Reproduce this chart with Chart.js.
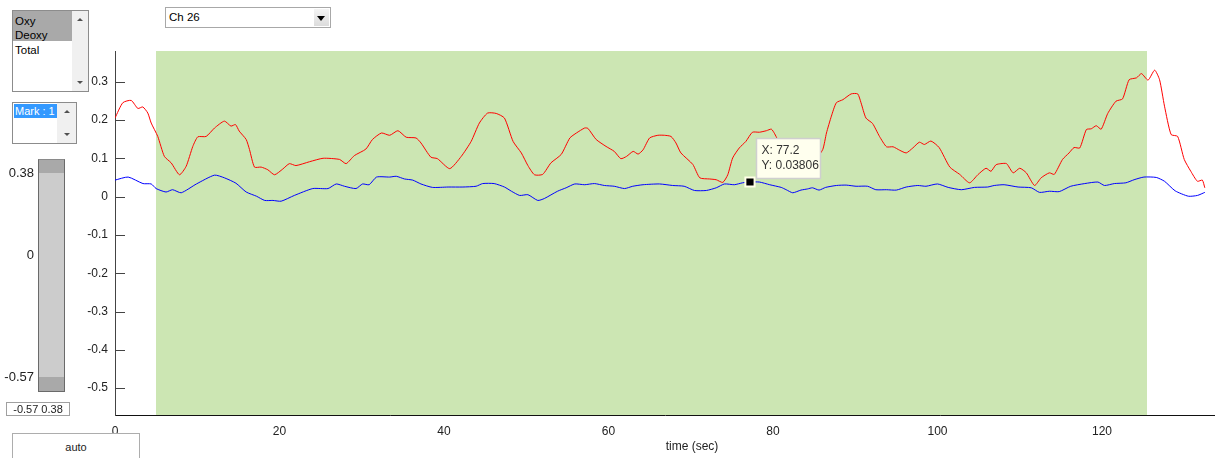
<!DOCTYPE html>
<html>
<head>
<meta charset="utf-8">
<title>Ch 26</title>
<script src="https://cdn.jsdelivr.net/npm/chart.js@4.4.1/dist/chart.umd.min.js"></script>
<style>
  html, body { margin: 0; padding: 0; background: #fff; width: 1215px; height: 458px; overflow: hidden; }
  body { font-family: "Liberation Sans", Arial, sans-serif; position: relative; }
  #plot { position: absolute; left: 0; top: 0; }
  .ctl { position: absolute; box-sizing: border-box; background: #fff; font-size: 12px; color: #000; }
  .list { border: 1px solid #8c8c8c; }
  .item { position: absolute; left: 2px; height: 15px; line-height: 15px; white-space: nowrap; font-size: 11.5px; }
  .hl { position: absolute; left: 0; }
  .vscroll { position: absolute; top: 0; right: 0; bottom: 0; background: #f0f0f0; }
  .up, .down { position: absolute; left: 50%; margin-left: -3px; width: 0; height: 0; border-left: 3px solid transparent; border-right: 3px solid transparent; }
  .up { top: 7px; border-bottom: 3px solid #505050; }
  .down { bottom: 7px; border-top: 3px solid #505050; }
  .drop { border: 1px solid #a8a8a8; }
  .drop .arrow { position: absolute; right: 1px; top: 1px; bottom: 1px; width: 15px; background: linear-gradient(#f4f4f4, #dcdcdc); }
  .drop .arrow i { position: absolute; left: 3px; top: 7px; width: 0; height: 0; border-left: 4px solid transparent; border-right: 4px solid transparent; border-top: 5px solid #000; }
  .lab { position: absolute; font-size: 13px; color: #222; white-space: nowrap; }
</style>
</head>
<body>
<!-- canvas runs a few px past the window so the axes reach the edge, as in the original -->
<canvas id="plot" width="1224" height="458"></canvas>

<div class="ctl list" style="left:12px;top:10px;width:77px;height:82px;">
  <div class="hl" style="top:0;width:59px;height:30px;background:#a9a9a9;"></div>
  <div class="item" style="top:3px;">Oxy</div>
  <div class="item" style="top:17px;">Deoxy</div>
  <div class="item" style="top:32px;">Total</div>
  <div class="vscroll" style="width:16px;"><span class="up"></span><span class="down"></span></div>
</div>

<div class="ctl list" style="left:12px;top:102px;width:65px;height:42px;">
  <div class="hl" style="top:1px;left:1px;width:43px;height:14px;background:#3399ff;"></div>
  <div class="item" style="top:1px;left:2px;height:14px;line-height:14px;color:#fff;font-size:11px;">Mark : 1</div>
  <div class="vscroll" style="width:19px;"><span class="up"></span><span class="down"></span></div>
</div>

<div class="ctl drop" style="left:165px;top:7px;width:166px;height:21px;">
  <div style="position:absolute;left:3px;top:3px;font-size:11.5px;">Ch 26</div>
  <div class="arrow"><i></i></div>
</div>

<div class="ctl" style="left:38px;top:159px;width:27px;height:233px;background:#cccccc;border:1px solid #6a6a6a;border-top-color:#8a8a8a;">
  <div style="position:absolute;left:0;right:0;top:0;height:13px;background:#a9a9a9;"></div>
  <div style="position:absolute;left:0;right:0;bottom:0;height:14px;background:#a9a9a9;"></div>
</div>
<div class="lab" style="right:1181px;top:165px;">0.38</div>
<div class="lab" style="right:1181px;top:247px;">0</div>
<div class="lab" style="right:1181px;top:369px;">-0.57</div>

<div class="ctl" style="left:6px;top:402px;width:64px;height:14px;border:1px solid #a0a0a0;font-size:11px;line-height:12px;text-align:center;color:#222;">-0.57 0.38</div>

<div class="ctl" style="left:12px;top:433px;width:128px;height:32px;border:1px solid #adadad;font-size:11px;text-align:center;line-height:26px;color:#222;">auto</div>

<script>
// time axis (sec) and channel 26 signals
const oxyTime = [0, 0.95, 1.97, 2.78, 3.38, 3.99, 4.4, 5.2, 6.0, 6.83, 7.84, 8.65, 9.46, 10.07, 11.08, 12.1, 13.3, 14.1, 14.65, 15.1,
  15.95, 16.35, 16.96, 17.77, 18.58, 19.4, 20.4, 21.2, 22.0, 23.65, 25.3, 27.3, 28.1, 29.1, 30.5, 31.3, 32.4, 33.4, 34.4, 35.4,
  36.6, 37.2, 38.4, 39.2, 40.7, 42.1, 43.3, 44.3, 45.3, 46.35, 47.35, 48.4, 49.4, 50.2, 51.0, 52.0, 53.0, 54.25, 55.3, 56.1,
  57.1, 57.5, 58.5, 59.7, 60.7, 61.5, 62.2, 63.0, 63.6, 64.2, 65.0, 66.0, 66.8, 67.6, 68.2, 68.8, 70.25, 71.1, 72.3, 73.1,
  73.9, 74.5, 75.1, 75.9, 76.7, 77.5, 78.35, 79.2, 79.8, 80.2, 81, 82, 83, 84, 85, 86.05, 86.5, 87.1, 87.7, 88.5,
  89.5, 90.3, 90.7, 91.3, 92.1, 92.95, 93.8, 94.6, 95.4, 96.2, 97.0, 97.8, 98.4, 99.2, 100.2, 101.5, 102.7, 103.9, 104.9, 105.9,
  106.5, 107.1, 107.7, 108.4, 109.2, 110.0, 110.8, 111.8, 112.6, 113.6, 114.2, 115.2, 116.0, 116.6, 117.3, 118.1, 118.7, 119.3, 119.9, 120.7,
  121.7, 122.5, 123.3, 124.2, 124.8, 125.6, 126.4, 127.0, 127.6, 128.4, 129.2, 130.0, 130.8, 131.6, 132.2, 132.5];
const oxyValues = [0.205, 0.245, 0.251, 0.230, 0.234, 0.218, 0.192, 0.157, 0.105, 0.088, 0.057, 0.079, 0.131, 0.156, 0.157, 0.179, 0.197, 0.184, 0.188, 0.171,
  0.149, 0.123, 0.077, 0.077, 0.070, 0.057, 0.072, 0.086, 0.081, 0.091, 0.100, 0.097, 0.086, 0.107, 0.124, 0.149, 0.166, 0.160, 0.172, 0.155,
  0.153, 0.140, 0.103, 0.099, 0.073, 0.105, 0.144, 0.192, 0.218, 0.217, 0.205, 0.144, 0.114, 0.081, 0.057, 0.058, 0.088, 0.110, 0.153, 0.166,
  0.179, 0.178, 0.149, 0.131, 0.118, 0.099, 0.105, 0.118, 0.111, 0.122, 0.153, 0.160, 0.160, 0.157, 0.140, 0.114, 0.084, 0.049, 0.046, 0.044,
  0.037, 0.057, 0.101, 0.127, 0.144, 0.168, 0.168, 0.172, 0.176, 0.164, 0.130, 0.090, 0.070, 0.070, 0.090, 0.123, 0.166, 0.210, 0.245, 0.253,
  0.268, 0.268, 0.245, 0.205, 0.191, 0.157, 0.130, 0.130, 0.121, 0.114, 0.127, 0.142, 0.136, 0.145, 0.128, 0.077, 0.058, 0.036, 0.057, 0.074,
  0.066, 0.083, 0.086, 0.086, 0.062, 0.074, 0.062, 0.029, 0.049, 0.062, 0.058, 0.097, 0.114, 0.128, 0.127, 0.175, 0.177, 0.185, 0.176, 0.217,
  0.249, 0.255, 0.305, 0.310, 0.321, 0.304, 0.330, 0.305, 0.236, 0.162, 0.157, 0.097, 0.066, 0.040, 0.043, 0.023];

const deoxyTime = [0, 1.6, 3.4, 4.4, 5.0, 6.2, 7.0, 8.05, 9.9, 12.1, 13.3, 14.7, 15.95, 17.2, 18.2, 19.2, 20.2, 21.8, 24.05, 25.9,
  26.9, 27.9, 29.3, 30.1, 30.9, 31.8, 33.4, 34.2, 35.2, 36.2, 37.2, 38.6, 40.5, 42.3, 43.9, 44.7, 46.1, 47.35, 48.2, 49.2,
  50.2, 51.4, 52.2, 53.8, 54.85, 55.9, 57.1, 58.3, 59.5, 60.7, 61.95, 62.95, 64.2, 66.2, 67.8, 69.2, 70.45, 71.9, 73.1, 74.1,
  75.3, 76.3, 77.2, 78.35, 79.6, 81.0, 81.6, 82.4, 83.4, 84.2, 84.8, 85.6, 86.4, 87.7, 88.9, 90.1, 91.5, 92.5, 93.8, 95.0,
  96.2, 97.6, 98.6, 100.0, 101.3, 102.9, 104.5, 106.1, 106.9, 108.1, 109.8, 111.4, 112.4, 113.6, 114.8, 116.2, 117.9, 119.5, 120.3, 121.5,
  122.9, 123.9, 125.1, 126.6, 127.6, 128.9, 130.5, 131.6, 132.5];
const deoxyValues = [0.043, 0.051, 0.034, 0.033, 0.021, 0.012, 0.018, 0.010, 0.033, 0.056, 0.049, 0.035, 0.012, 0.001, -0.010, -0.010, -0.012, 0.003, 0.021, 0.021,
  0.033, 0.027, 0.021, 0.033, 0.031, 0.051, 0.051, 0.053, 0.046, 0.043, 0.033, 0.024, 0.025, 0.025, 0.027, 0.034, 0.034, 0.025, 0.014, 0.003,
  0.005, -0.010, -0.005, 0.014, 0.023, 0.033, 0.031, 0.034, 0.029, 0.027, 0.021, 0.027, 0.031, 0.033, 0.029, 0.027, 0.016, 0.016, 0.023, 0.033,
  0.031, 0.036, 0.038, 0.038, 0.031, 0.024, 0.018, 0.010, 0.017, 0.020, 0.023, 0.017, 0.024, 0.029, 0.030, 0.027, 0.027, 0.018, 0.018, 0.017,
  0.025, 0.029, 0.027, 0.033, 0.024, 0.018, 0.024, 0.025, 0.029, 0.031, 0.025, 0.023, 0.011, 0.014, 0.013, 0.027, 0.034, 0.038, 0.029, 0.034,
  0.036, 0.044, 0.051, 0.050, 0.040, 0.015, 0.001, 0.003, 0.011];

// "Mark : 1" block (sec) and the data cursor
const markRange = [5.0, 125.5];
const cursorTime = [77.2];
const cursorValue = [0.03806];

const xTicks = [0, 20, 40, 60, 80, 100, 120];
const yTicks = [-0.5, -0.4, -0.3, -0.2, -0.1, 0, 0.1, 0.2, 0.3];
const yTickLabels = ['-0.5', '-0.4', '-0.3', '-0.2', '-0.1', '0', '0.1', '0.2', '0.3'];
const xAxisTitle = 'time (sec)';
const xMax = 133.8;
const yLimits = [-0.57, 0.38];

const FONT = '"Liberation Sans", Arial, sans-serif';
const toPoints = (xs, ys) => xs.map((x, i) => ({ x: x, y: ys[i] }));

// green mark patch, inward y ticks, data tip and the x label
const figurePlugin = {
    id: 'figure',
    beforeDatasetsDraw(chart) {
        const { ctx, chartArea, scales } = chart;
        const x0 = scales.x.getPixelForValue(markRange[0]);
        const x1 = scales.x.getPixelForValue(markRange[1]);
        ctx.save();
        ctx.fillStyle = '#cce6b3';
        ctx.fillRect(Math.round(x0), chartArea.top, Math.round(x1 - x0), chartArea.bottom - chartArea.top);
        ctx.restore();
    },
    afterDatasetsDraw(chart) {
        const { ctx, chartArea, scales } = chart;
        ctx.save();

        // ticks point into the axes, like the original
        ctx.strokeStyle = '#444';
        ctx.lineWidth = 1;
        yTicks.forEach((v) => {
            const py = Math.round(scales.y.getPixelForValue(v)) + 0.5;
            ctx.beginPath();
            ctx.moveTo(chartArea.left, py);
            ctx.lineTo(chartArea.left + 10, py);
            ctx.stroke();
        });

        // data tip box
        const px = scales.x.getPixelForValue(cursorTime[0]);
        const py = scales.y.getPixelForValue(cursorValue[0]);
        const bx = Math.round(px + 6) + 0.5;
        const by = Math.round(py - 44) + 0.5;
        ctx.fillStyle = '#ffffee';
        ctx.fillRect(bx, by, 64, 40);
        ctx.strokeStyle = '#cfcfcf';
        ctx.lineWidth = 1.5;
        ctx.strokeRect(bx, by, 64, 40);
        ctx.fillStyle = '#333';
        ctx.font = '12px ' + FONT;
        ctx.textBaseline = 'middle';
        ctx.textAlign = 'left';
        ctx.fillText('X: ' + cursorTime[0], bx + 5, by + 12);
        ctx.fillText('Y: ' + cursorValue[0], bx + 5, by + 27);

        // x label sits right of centre because the axes run past the window
        ctx.textAlign = 'center';
        ctx.fillStyle = '#222';
        ctx.fillText(xAxisTitle, chartArea.left + 577, 447);
        ctx.restore();
    }
};

const chart = new Chart(document.getElementById('plot'), {
    type: 'line',
    data: {
        datasets: [
            {
                label: 'cursor',
                data: toPoints(cursorTime, cursorValue),
                showLine: false,
                pointStyle: 'rect',
                pointRadius: 6.5,
                pointBackgroundColor: '#000',
                pointBorderColor: '#ffffe8',
                pointBorderWidth: 2,
                order: 0
            },
            {
                label: 'Oxy',
                data: toPoints(oxyTime, oxyValues),
                borderColor: '#ff0000',
                borderWidth: 1,
                pointRadius: 0,
                tension: 0.2,
                order: 1
            },
            {
                label: 'Deoxy',
                data: toPoints(deoxyTime, deoxyValues),
                borderColor: '#0000ff',
                borderWidth: 1,
                pointRadius: 0,
                tension: 0.2,
                order: 2
            }
        ]
    },
    options: {
        responsive: false,
        animation: false,
        devicePixelRatio: 1,
        events: [],
        layout: { padding: { left: 70, right: 0, top: 51, bottom: 0 } },
        plugins: {
            legend: { display: false },
            tooltip: { enabled: false }
        },
        scales: {
            x: {
                type: 'linear',
                min: 0,
                max: xMax,
                afterFit: (s) => { s.height = 43; },
                afterBuildTicks: (s) => { s.ticks = xTicks.map((v) => ({ value: v })); },
                grid: { display: false, drawTicks: false },
                border: { display: true, color: '#111', width: 1 },
                ticks: {
                    padding: 9,
                    color: '#222',
                    maxRotation: 0,
                    autoSkip: false,
                    font: { family: FONT, size: 12 },
                    callback: (v) => String(v)
                }
            },
            y: {
                type: 'linear',
                min: yLimits[0],
                max: yLimits[1],
                afterFit: (s) => { s.width = 45; },
                afterBuildTicks: (s) => { s.ticks = yTicks.map((v) => ({ value: v })); },
                grid: { display: false, drawTicks: false },
                border: { display: true, color: '#444', width: 1 },
                ticks: {
                    padding: 7,
                    color: '#222',
                    autoSkip: false,
                    font: { family: FONT, size: 12 },
                    callback: (v, i) => yTickLabels[i]
                }
            }
        }
    },
    plugins: [figurePlugin]
});
</script>
</body>
</html>
